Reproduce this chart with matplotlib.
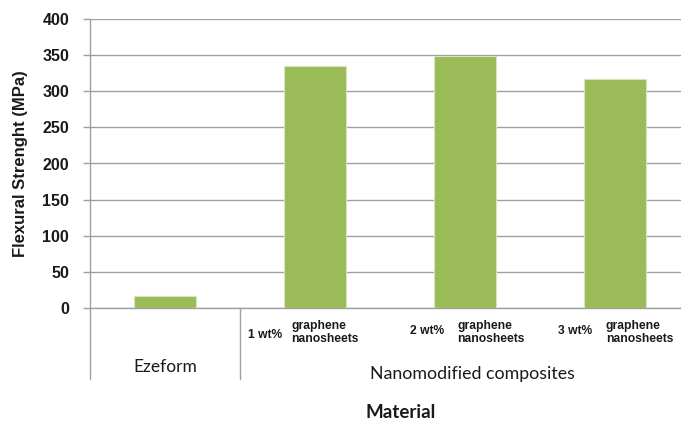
import numpy as np
import matplotlib.pyplot as plt
from matplotlib import transforms

plt.rcParams['font.family'] = ['Liberation Sans', 'DejaVu Sans']

# Flexural strength per material
materials = ["Ezeform", "1 wt%", "2 wt%", "3 wt%"]
strength = [16, 335, 349, 317]
yticks = [0, 50, 100, 150, 200, 250, 300, 350, 400]
group_names = ["Ezeform", "Nanomodified composites"]

# offsets of the "x wt%" and "graphene nanosheets" parts from each bar centre
wt_offset = [-0.45, -0.37, -0.38]
gn_offset = [-0.16, -0.05, -0.06]
wt_level = [-0.093, -0.079, -0.079]

bar_color = "#9bbb59"
line_color = "#a0a0a0"
text_color = "#1a1a1a"

W, H = 681, 423
fig = plt.figure(figsize=(W / 100, H / 100), dpi=100)
ax = fig.add_axes([90 / W, (H - 308) / H, (W - 90) / W, 289 / H])

x = np.arange(len(materials))
ax.bar(x, strength, width=0.41, color=bar_color, edgecolor="#d8e4bc",
       linewidth=0.8, zorder=3)

ax.set_xlim(-0.5, -0.5 + (W - 90) / 150)
ax.set_ylim(0, 400)
ax.set_yticks(yticks)
ax.set_yticklabels([str(v) for v in yticks], fontsize=11.5, fontweight="bold",
                   color=text_color)
ax.set_xticks([])
ax.tick_params(axis="y", length=5, width=1, color=line_color, pad=10)
ax.yaxis.grid(True, color=line_color, linewidth=1, zorder=0)
ax.set_axisbelow(True)

for side in ["top", "right"]:
    ax.spines[side].set_visible(False)
for side in ["left", "bottom"]:
    ax.spines[side].set_color(line_color)
    ax.spines[side].set_linewidth(1)

ax.set_ylabel("Flexural Strenght (MPa)", fontsize=12, fontweight="bold",
              color=text_color)
ax.yaxis.set_label_coords(-0.117, 0.5)
ax.yaxis.label.set_va("center")

# category box lines below the axis
trans = transforms.blended_transform_factory(ax.transData, ax.transAxes)
depth = -(379 - 308) / 289
for xv in [-0.5, 0.5]:
    ax.plot([xv, xv], [0, depth], color=line_color, linewidth=1,
            transform=trans, clip_on=False)

# sub-category labels
for i in range(1, len(materials)):
    ax.text(x[i] + wt_offset[i - 1], wt_level[i - 1], materials[i],
            transform=trans, fontsize=8.7, fontweight="bold",
            color=text_color, ha="left", va="center")
    ax.text(x[i] + gn_offset[i - 1], -0.085, "graphene\nnanosheets",
            transform=trans, fontsize=8.7, fontweight="bold",
            color=text_color, ha="left", va="center", linespacing=1.2)

# group labels
ax.text(0, -0.204, group_names[0], transform=trans, fontsize=12.5,
        family="Lato", color=text_color, ha="center", va="center")
ax.text(2.05, -0.228, group_names[1], transform=trans, fontsize=12.8,
        family="Lato", color=text_color, ha="center", va="center")

fig.text(401 / W, 1 - 412 / H, "Material", fontsize=13.5, family="Lato",
         fontweight="bold", color=text_color, ha="center", va="center")

fig.savefig("out.png", dpi=100)
